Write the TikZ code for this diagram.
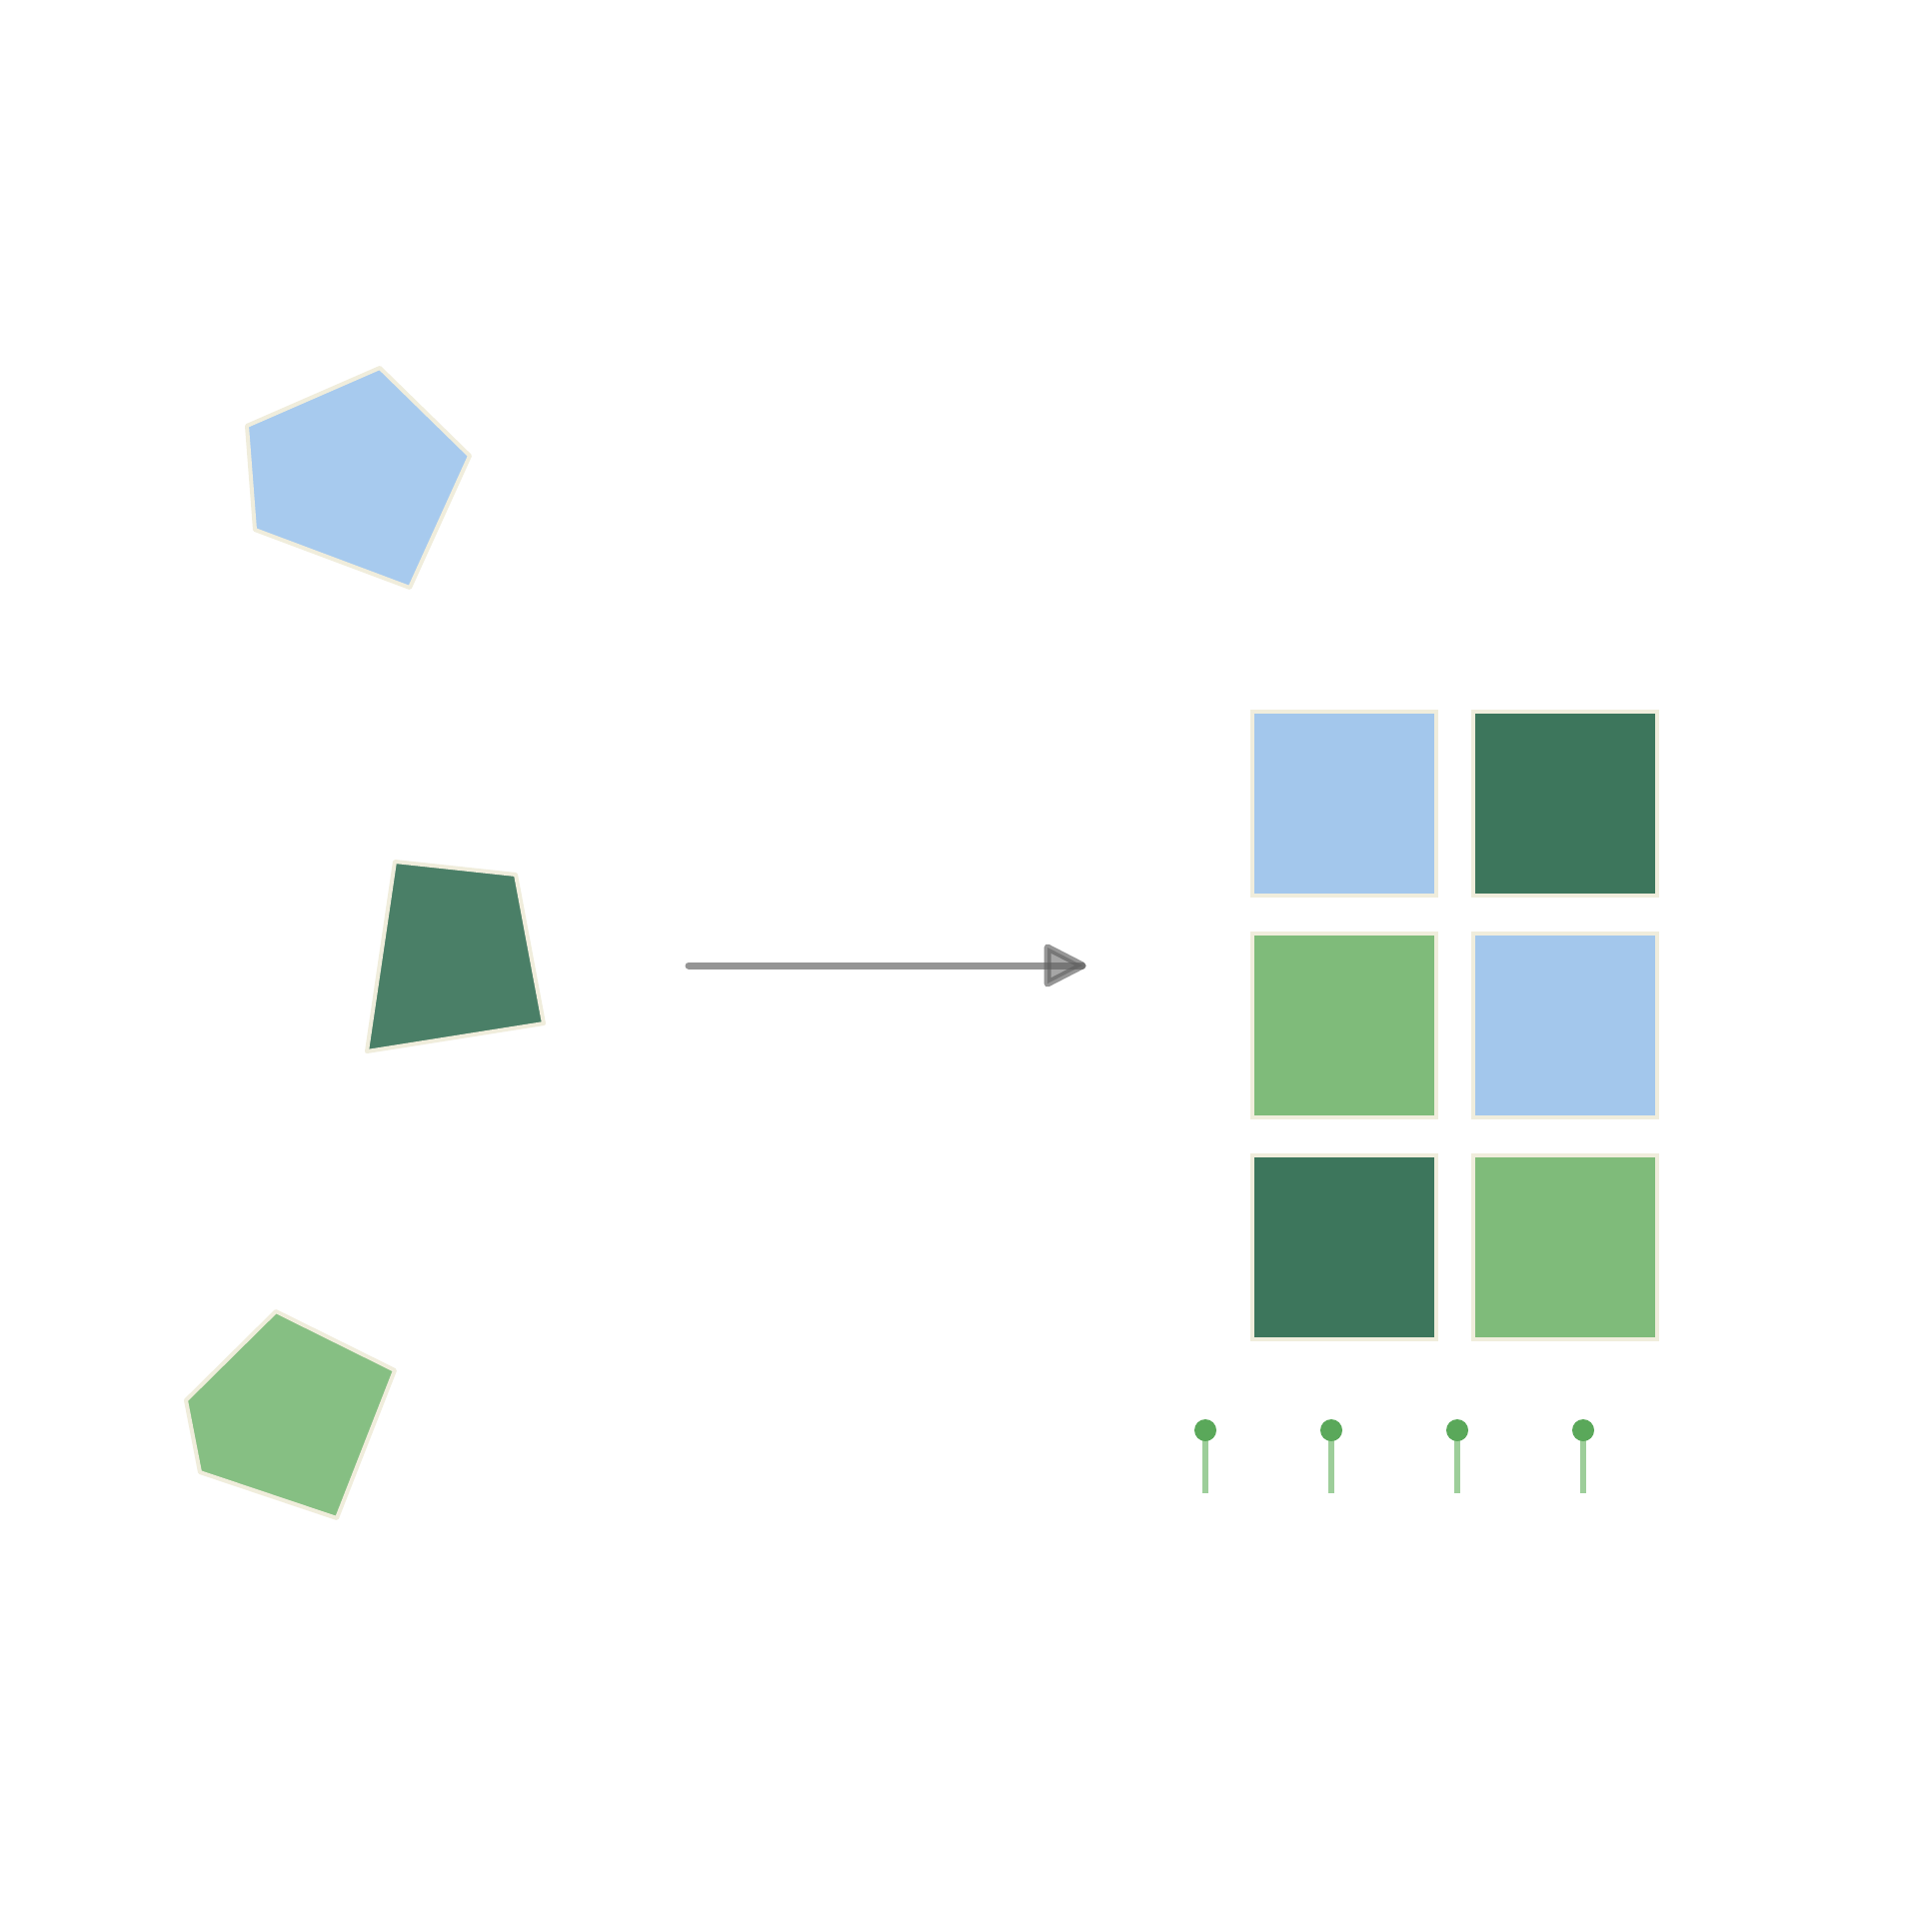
\documentclass[tikz,border=0pt]{standalone}
\usetikzlibrary{calc}
\definecolor{skyb}{HTML}{A3C7EC}
\definecolor{pentb}{HTML}{A7CAEE}
\definecolor{darkg}{HTML}{3D765C}
\definecolor{quadg}{HTML}{4A7F67}
\definecolor{lightg}{HTML}{7FBB7A}
\definecolor{pentg}{HTML}{86BF83}
\definecolor{cream}{HTML}{F0EDDC}
\definecolor{pinc}{HTML}{5AA85A}
\definecolor{stemc}{HTML}{9DCE9A}
\definecolor{arrowc}{HTML}{8A8A8A}
\definecolor{headc}{HTML}{5E5E5E}
\tikzset{
  polyshape/.style={draw=cream, line width=4pt, line join=round},
  cell/.style={draw=cream, line width=4pt, minimum width=184pt, minimum height=184pt, inner sep=0pt},
  stem/.style={draw=stemc, line width=6pt},
  pinhead/.style={circle, fill=pinc, minimum size=22pt, inner sep=0pt},
}
\begin{document}
\begin{tikzpicture}[x=1pt,y=-1pt]
\useasboundingbox[fill=white] (0,0) rectangle (1932,1932);
% left shapes
\draw[polyshape, fill=pentb] (380,368) -- (470,456) -- (410,588) -- (255,530) -- (247,426) -- cycle;
\draw[polyshape, fill=quadg] (395,862) -- (516,875) -- (544,1024) -- (367,1052) -- cycle;
\draw[polyshape, fill=pentg] (276,1312) -- (395,1371) -- (337,1519) -- (200,1473) -- (186,1401) -- cycle;
% arrow
\coordinate (a0) at (689,966);
\coordinate (a1) at (1083,966);
\coordinate (hb1) at (1048,948);
\coordinate (hb2) at (1048,984);
\draw[arrowc, opacity=0.9, line width=7pt, line cap=round] (a0) -- (a1);
\draw[headc, line width=7pt, line join=round, draw opacity=0.65, fill opacity=0.55, fill=headc] (hb1) -- (a1) -- (hb2) -- cycle;
% grid
\node[cell, fill=skyb]  (c11) at (1344.5,803.5) {};
\node[cell, fill=darkg]  (c12) at (1566,803.5) {};
\node[cell, fill=lightg] (c21) at (1344.5,1025.5) {};
\node[cell, fill=skyb]  (c22) at (1566,1025.5) {};
\node[cell, fill=darkg]  (c31) at (1344.5,1247.5) {};
\node[cell, fill=lightg] (c32) at (1566,1247.5) {};
% pins
\foreach \i/\x in {1/1206,2/1332,3/1458,4/1584} {
  \coordinate (s\i) at (\x,1494);
  \coordinate (t\i) at (\x,1440);
  \draw[stem] (t\i) -- (s\i);
  \node[pinhead] (p\i) at (\x,1431) {};
}
\end{tikzpicture}
\end{document}
